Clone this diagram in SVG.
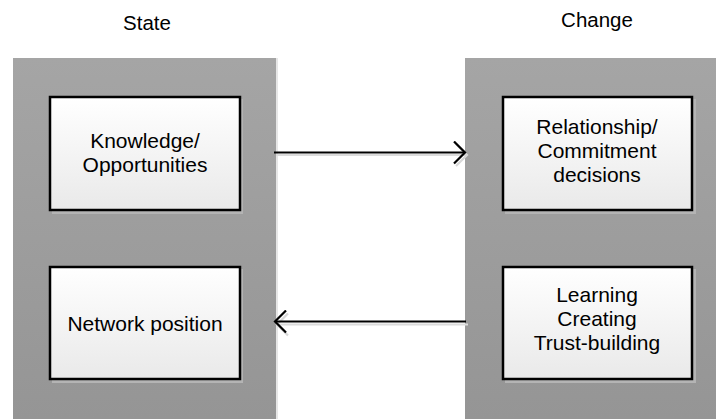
<svg xmlns="http://www.w3.org/2000/svg" width="716" height="419" viewBox="0 0 716 419">
  <defs>
    <linearGradient id="panelFill" x1="0" y1="0" x2="0" y2="1">
      <stop offset="0" stop-color="#a5a5a5"/>
      <stop offset="1" stop-color="#959595"/>
    </linearGradient>
    <linearGradient id="boxFill" x1="0" y1="0" x2="0" y2="1">
      <stop offset="0" stop-color="#ffffff"/>
      <stop offset="1" stop-color="#e9e9e9"/>
    </linearGradient>
    <marker id="head" viewBox="0 0 14 24" refX="12" refY="12" markerWidth="14" markerHeight="24" markerUnits="userSpaceOnUse" orient="auto">
      <path d="M1,1 L12,12 L1,23" fill="none" stroke="#000" stroke-width="2.2"/>
    </marker>
    <marker id="headShadow" viewBox="0 0 14 24" refX="12" refY="12" markerWidth="14" markerHeight="24" markerUnits="userSpaceOnUse" orient="auto">
      <path d="M1,1 L12,12 L1,23" fill="none" stroke="#d8d8d8" stroke-width="2.2"/>
    </marker>
  </defs>
  <style>
    .title { font-family: "Liberation Sans", Arial, sans-serif; font-size: 20.5px; fill: #000; text-anchor: middle; }
    .label { font-family: "Liberation Sans", Arial, sans-serif; font-size: 21px; fill: #000; text-anchor: middle; }
    .panel { fill: url(#panelFill); }
    .box { fill: url(#boxFill); stroke: #000; stroke-width: 2.5; }
    .shadow { fill: #b4b4b4; }
    .conn { stroke: #000; stroke-width: 2.2; fill: none; }
    .connShadow { stroke: #dcdcdc; stroke-width: 2.2; fill: none; }
  </style>

  <rect width="716" height="419" fill="#ffffff"/>

  <!-- column backgrounds -->
  <g id="state-column">
    <rect x="276" y="58" width="2" height="361" fill="#e6e6e6"/>
    <rect class="panel" x="13" y="58" width="263" height="361"/>
    <text class="title" x="147" y="30">State</text>
  </g>
  <g id="change-column">
    <rect class="panel" x="465" y="58" width="251" height="361"/>
    <text class="title" x="597" y="27">Change</text>
  </g>

  <!-- nodes -->
  <g id="knowledge">
    <rect class="shadow" x="52" y="99" width="191" height="115"/>
    <rect class="box" x="50" y="97" width="190" height="113"/>
    <text class="label" x="145" y="148">Knowledge/</text>
    <text class="label" x="145" y="172">Opportunities</text>
  </g>
  <g id="network-position">
    <rect class="shadow" x="52" y="269" width="191" height="114"/>
    <rect class="box" x="50" y="267" width="190" height="112"/>
    <text class="label" x="145" y="331">Network position</text>
  </g>
  <g id="relationship">
    <rect class="shadow" x="505" y="99" width="191" height="115"/>
    <rect class="box" x="503" y="97" width="189" height="113"/>
    <text class="label" x="597" y="134">Relationship/</text>
    <text class="label" x="597" y="158">Commitment</text>
    <text class="label" x="597" y="182">decisions</text>
  </g>
  <g id="learning">
    <rect class="shadow" x="505" y="269" width="191" height="114"/>
    <rect class="box" x="503" y="267" width="189" height="112"/>
    <text class="label" x="597" y="302">Learning</text>
    <text class="label" x="597" y="326">Creating</text>
    <text class="label" x="597" y="350">Trust-building</text>
  </g>

  <!-- connectors -->
  <g id="connectors">
    <line class="connShadow" x1="276" y1="155" x2="467" y2="155" marker-end="url(#headShadow)"/>
    <line class="conn" x1="274" y1="152.5" x2="465" y2="152.5" marker-end="url(#head)"/>
    <line class="connShadow" x1="468" y1="324.5" x2="277" y2="324.5" marker-end="url(#headShadow)"/>
    <line class="conn" x1="466" y1="321.5" x2="275" y2="321.5" marker-end="url(#head)"/>
  </g>
</svg>
